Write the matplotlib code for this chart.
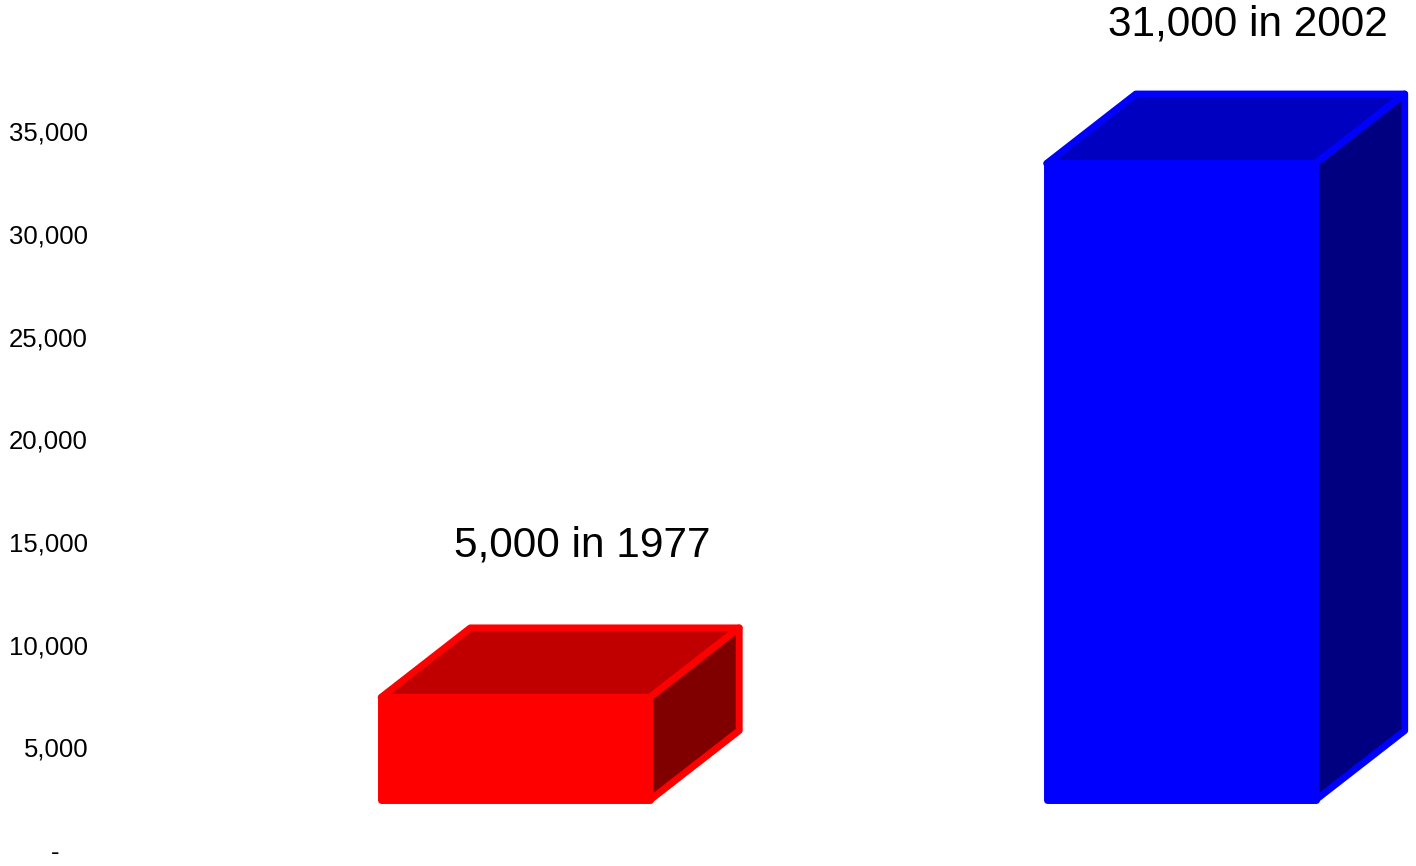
import matplotlib
matplotlib.use('Agg')
import matplotlib.pyplot as plt
from matplotlib.patches import Polygon

plt.rcParams['font.family'] = ['Liberation Sans', 'DejaVu Sans']

years = [1977, 2002]
values = [5000, 31000]
front_colors = ['#ff0000', '#0000ff']
top_colors = ['#c00000', '#0000c0']
side_colors = ['#800000', '#000080']
yticks = [0, 5000, 10000, 15000, 20000, 25000, 30000, 35000]
ytick_labels = ['-    '] + ['{:,}'.format(t) for t in yticks[1:]]

# fake 3D geometry (category / data units)
width = 0.404
dx = 0.134
dy = 3380
base = 2435

fig = plt.figure(figsize=(14.16, 8.66), dpi=100)
ax = fig.add_axes([95 / 1416, 0, 1 - 95 / 1416, 1])
ax.set_xlim(-0.632, 1.353)
ax.set_ylim(-779, 41395)
for s in ax.spines.values():
    s.set_visible(False)
ax.set_xticks([])
ax.set_yticks(yticks)
ax.set_yticklabels(ytick_labels, fontsize=18.5)
ax.tick_params(axis='y', length=0, pad=5)

lw = 5
for i, (yr, v) in enumerate(zip(years, values)):
    x0, x1 = i - width / 2, i + width / 2
    b, t = base, base + v
    front = [(x0, b), (x1, b), (x1, t), (x0, t)]
    top = [(x0, t), (x1, t), (x1 + dx, t + dy), (x0 + dx, t + dy)]
    side = [(x1, b), (x1 + dx, b + dy), (x1 + dx, t + dy), (x1, t)]
    for pts, fc in [(front, front_colors[i]), (top, top_colors[i]), (side, side_colors[i])]:
        ax.add_patch(Polygon(pts, closed=True, facecolor=fc, edgecolor=front_colors[i],
                             linewidth=lw, joinstyle='round'))
    ly = min(t + dy + 4000, 40180)
    ax.text(i + 0.1, ly, '{:,} in {}'.format(v, yr), ha='center', va='center', fontsize=30.5)

fig.savefig('out.png', dpi=100)
